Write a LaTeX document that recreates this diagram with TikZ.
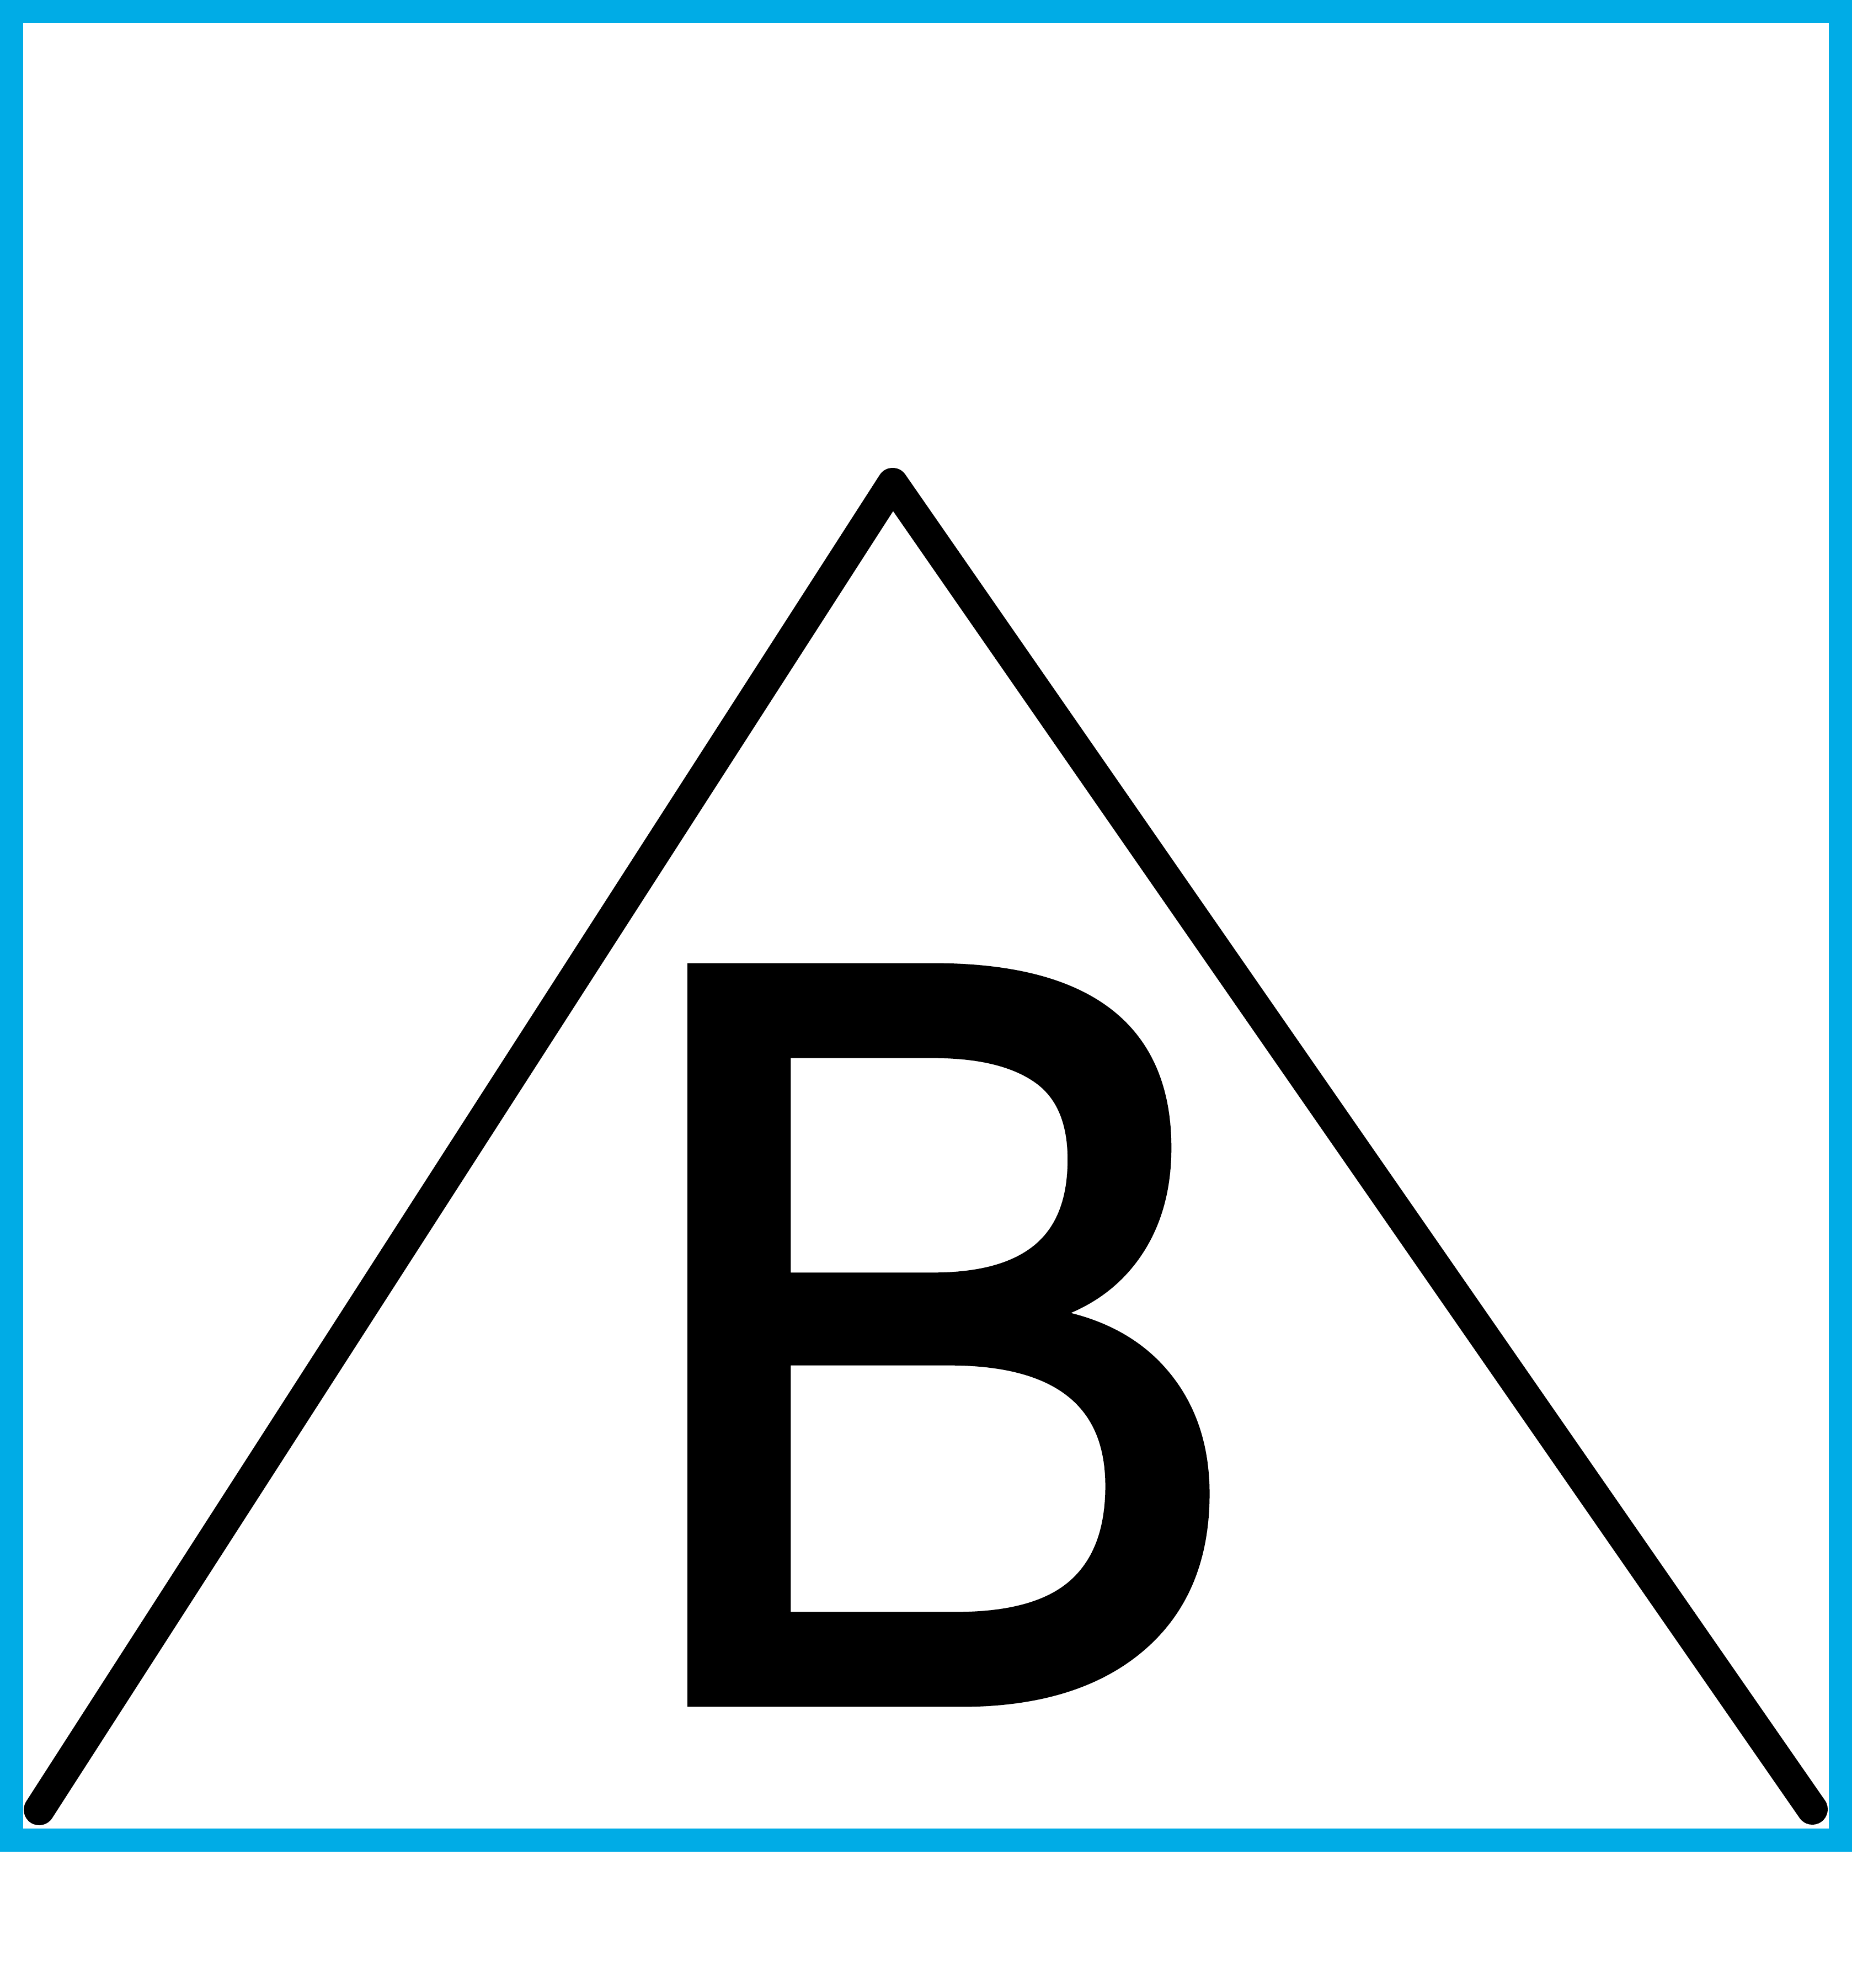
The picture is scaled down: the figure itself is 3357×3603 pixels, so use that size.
\documentclass[tikz,border=0pt]{standalone}
\usepackage{fontspec}
\setmainfont{Liberation Sans}
\newfontfamily\letterfont[FakeBold=1.5]{Liberation Sans}
\definecolor{framecyan}{RGB}{0,172,230}

\begin{document}
\begin{tikzpicture}[x=0.005cm, y=-0.005cm]
    \useasboundingbox (0,0) rectangle (3357,3603);

    % marco azul
    \draw[framecyan, line width=0.21cm] (21,21) rectangle (3336,3335);

    % vertices del triangulo
    \coordinate (apex) at (1618,876);
    \coordinate (leftfoot) at (71,3280);
    \coordinate (rightfoot) at (3285,3279);
    \draw[line width=0.28cm, line cap=round, line join=round]
        (leftfoot) -- (apex) -- (rightfoot);

    % letra
    \node[inner sep=0, anchor=base] (letter) at (1694,3079)
        {\letterfont\fontsize{273}{273}\selectfont\scalebox{0.902}[1]{B}};
\end{tikzpicture}
\end{document}
